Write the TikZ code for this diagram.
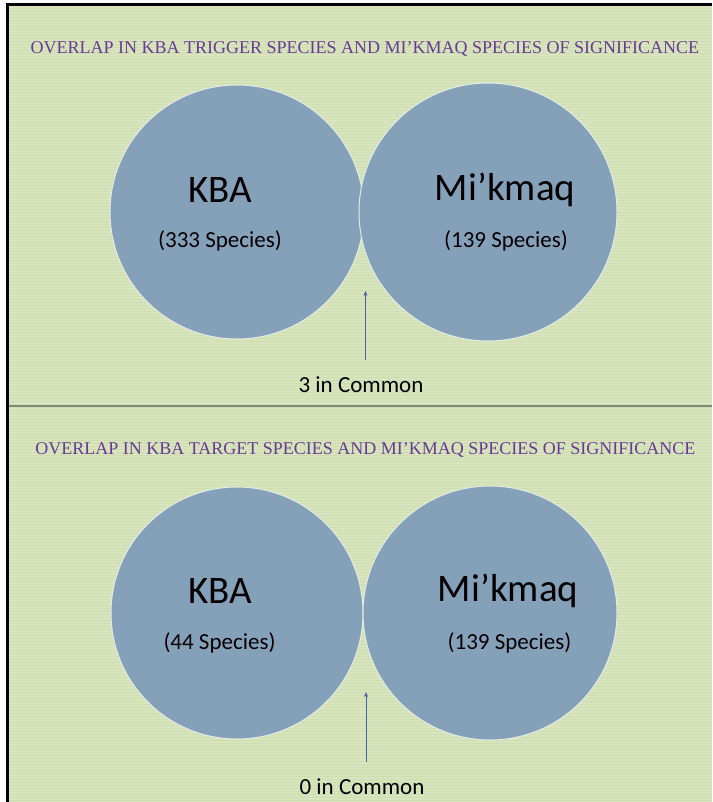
\documentclass[tikz,border=0pt]{standalone}
\usepackage{fontspec}
\setmainfont{Carlito}
\newfontfamily\titlefont{Liberation Serif}
\usetikzlibrary{arrows.meta}
\definecolor{bggreen}{RGB}{216,228,188}
\definecolor{stripe}{RGB}{207,221,179}
\definecolor{circfill}{RGB}{133,161,186}
\definecolor{circedge}{RGB}{226,236,226}
\definecolor{titlepurple}{RGB}{104,58,150}
\definecolor{sepgray}{RGB}{128,138,120}
\definecolor{arrowblue}{RGB}{70,100,165}
\tikzset{
  venn/.style={circle, fill=circfill, draw=circedge, line width=1pt, inner sep=0pt},
  titletext/.style={text=titlepurple, font=\titlefont\fontsize{18}{20}\selectfont, inner sep=0pt},
  bigtext/.style={font=\fontsize{39}{42}\selectfont, inner sep=0pt},
  smalltext/.style={font=\fontsize{23}{26}\selectfont, inner sep=0pt},
  pointer/.style={draw=arrowblue, line width=0.9pt, -{Stealth[length=5pt,width=4pt]}}
}
\begin{document}
\begin{tikzpicture}[x=1pt,y=-1pt]
\useasboundingbox (0,0) rectangle (712,802);
\fill[white] (0,0) rectangle (712,802);
\fill[bggreen] (7,5) rectangle (712,802);
\foreach \yy in {8,11,...,800} {\draw[stripe, line width=0.5pt] (8,\yy) -- (712,\yy);}
\draw[black, line width=3pt] (7,802) -- (7,5) -- (712,5);
\draw[sepgray, line width=2pt] (8.5,406) -- (712,406);

% top panel
\node[titletext] (title1) at (365,48.5) {OVERLAP IN KBA TRIGGER SPECIES AND MI’KMAQ SPECIES OF SIGNIFICANCE};
\node[venn, minimum size=254pt] (kba1) at (237,212) {};
\node[venn, minimum size=258pt] (mik1) at (488,212) {};
\node[bigtext] (kbal1) at (220,190) {KBA};
\node[smalltext] (kbas1) at (220,241) {(333 Species)};
\node[bigtext] (mikl1) at (505,190) {Mi’kmaq};
\node[smalltext] (miks1) at (506,241) {(139 Species)};
\node[smalltext] (common1) at (361,385) {3 in Common};
\coordinate (a1s) at (365.5,360);
\coordinate (a1t) at (365.5,291);
\draw[pointer] (a1s) -- (a1t);

% bottom panel
\node[titletext] (title2) at (365.5,449.5) {OVERLAP IN KBA TARGET SPECIES AND MI’KMAQ SPECIES OF SIGNIFICANCE};
\node[venn, minimum size=252pt] (kba2) at (237,613) {};
\node[venn, minimum size=254pt] (mik2) at (490,613) {};
\node[bigtext] (kbal2) at (220,591) {KBA};
\node[smalltext] (kbas2) at (219.5,643) {(44 Species)};
\node[bigtext] (mikl2) at (508,591) {Mi’kmaq};
\node[smalltext] (miks2) at (509.5,643) {(139 Species)};
\node[smalltext] (common2) at (362,787) {0 in Common};
\coordinate (a2s) at (366,762);
\coordinate (a2t) at (366,692);
\draw[pointer] (a2s) -- (a2t);
\end{tikzpicture}
\end{document}
